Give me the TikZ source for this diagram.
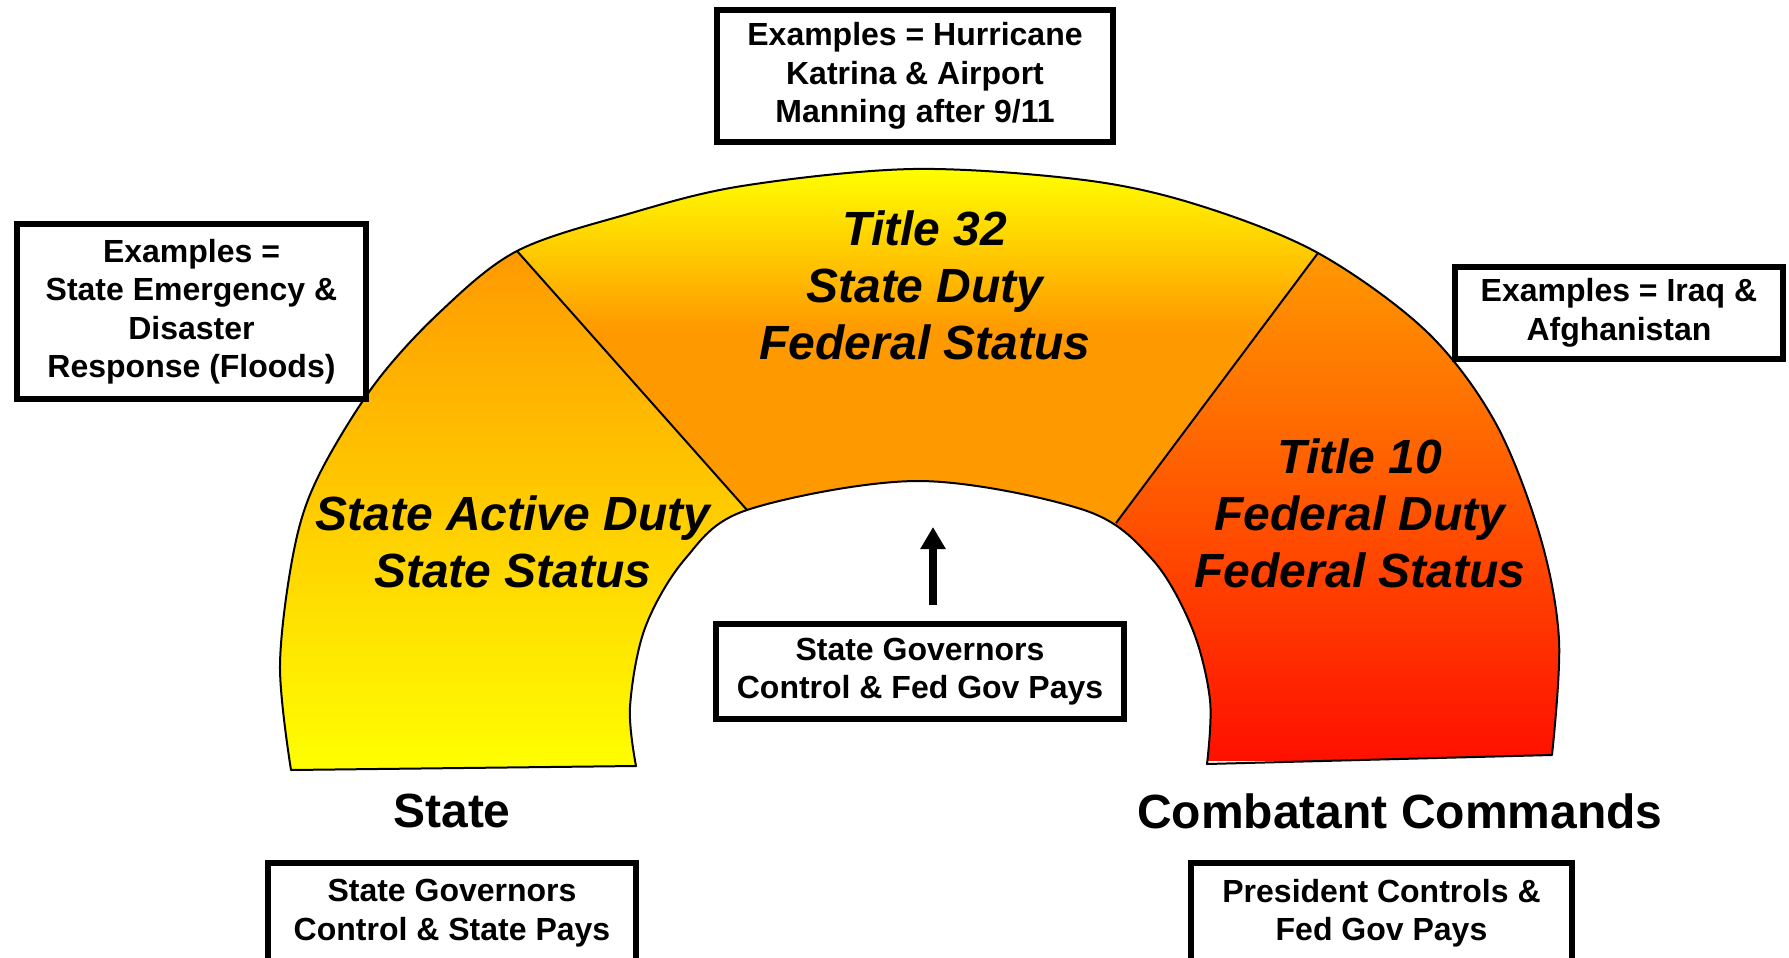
\documentclass[tikz,border=0pt]{standalone}
\usepackage{fontspec}
\setmainfont{Liberation Sans}
\usetikzlibrary{arrows.meta}
\definecolor{segorange}{RGB}{255,153,0}
\definecolor{segyellow}{RGB}{255,255,0}
\definecolor{segred}{RGB}{255,16,0}
\begin{document}
\begin{tikzpicture}[x=1pt,y=-1pt,
  box/.style={draw=black,line width=6pt,fill=white,align=center,inner sep=0pt,
    font=\bfseries\fontsize{32}{38.5}\selectfont},
  seglabel/.style={align=center,inner sep=0pt,
    font=\bfseries\itshape\fontsize{48}{57}\selectfont},
  endlabel/.style={inner sep=0pt,font=\bfseries\fontsize{48}{57}\selectfont},
  edgeline/.style={line width=2pt,line join=round}]
\useasboundingbox (0,0) rectangle (1789,958);
\clip (0,0) rectangle (1789,958);
\def\archpath{plot[smooth,tension=0.55] coordinates {(291,770) (280,665) (294,550) (318,477) (374,385) (440,312) (517,251) (628,214) (742,186) (913,169) (1084,180) (1198,205) (1318,253) (1426,331) (1495,422) (1540,536) (1559,640) (1552,755)} -- plot[smooth,tension=0.55] coordinates {(1207,764) (1210,700) (1192,628) (1152,559) (1084,510) (918,481) (747,510) (685,559) (645,628) (630,707) (636,766)} -- cycle}
% left segment
\begin{scope}
\clip \archpath;
\clip (287,-8) -- (953,741) -- (953,958) -- (0,958) -- (0,-8) -- cycle;
\shade[top color=segorange,bottom color=segyellow] (0,251) rectangle (960,770);
\end{scope}
% middle segment
\begin{scope}
\clip \archpath;
\clip (287,-8) -- (953,741) -- (1520,-17) -- cycle;
\fill[segorange] (0,0) rectangle (1789,958);
\shade[top color=segyellow,bottom color=segorange] (0,169) rectangle (1789,330);
\end{scope}
% right segment
\begin{scope}
\clip \archpath;
\clip (1520,-17) -- (953,741) -- (953,958) -- (1789,958) -- (1789,-17) -- cycle;
\shade[top color=segorange,bottom color=segred] (900,253) rectangle (1789,760);
\end{scope}
\draw[edgeline] \archpath;
\draw[edgeline] (517,251) -- (747,510);
\draw[edgeline] (1318,253) -- (1116,523);

\node[seglabel] (sad) at (513,542) {State Active Duty\\State Status};
\node[seglabel] (t32) at (925,285) {Title 32\\State Duty\\Federal Status};
\node[seglabel] (t10) at (1360,513) {Title 10\\Federal Duty\\Federal Status};

\node[endlabel] (statelbl) at (452,811) {State};
\node[endlabel] (cclbl) at (1400,811) {Combatant Commands};

\node[box,minimum width=349pt,minimum height=175pt] (exstate) at (191.5,311.5) {Examples =\\State Emergency \&\\Disaster\\Response (Floods)};
\node[box,minimum width=396pt,minimum height=132pt] (exkatrina) at (915,76) {Examples = Hurricane\\Katrina \& Airport\\Manning after 9/11};
\node[box,minimum width=328pt,minimum height=92pt] (exiraq) at (1619,313) {Examples = Iraq \&\\Afghanistan};
\node[box,minimum width=408pt,minimum height=95pt] (midbox) at (920,671.5) {State Governors\\Control \& Fed Gov Pays};
\node[box,minimum width=368pt,minimum height=100pt] (statebox) at (452,913) {State Governors\\Control \& State Pays};
\node[box,minimum width=381pt,minimum height=100pt] (presbox) at (1381.5,913) {President Controls \&\\Fed Gov Pays};

\coordinate (arrowtip) at (933,527);
\draw[line width=8pt,-{Triangle[width=24pt,length=22pt]}] ([xshift=13pt,yshift=16pt]midbox.north) -- (arrowtip);
\end{tikzpicture}
\end{document}
